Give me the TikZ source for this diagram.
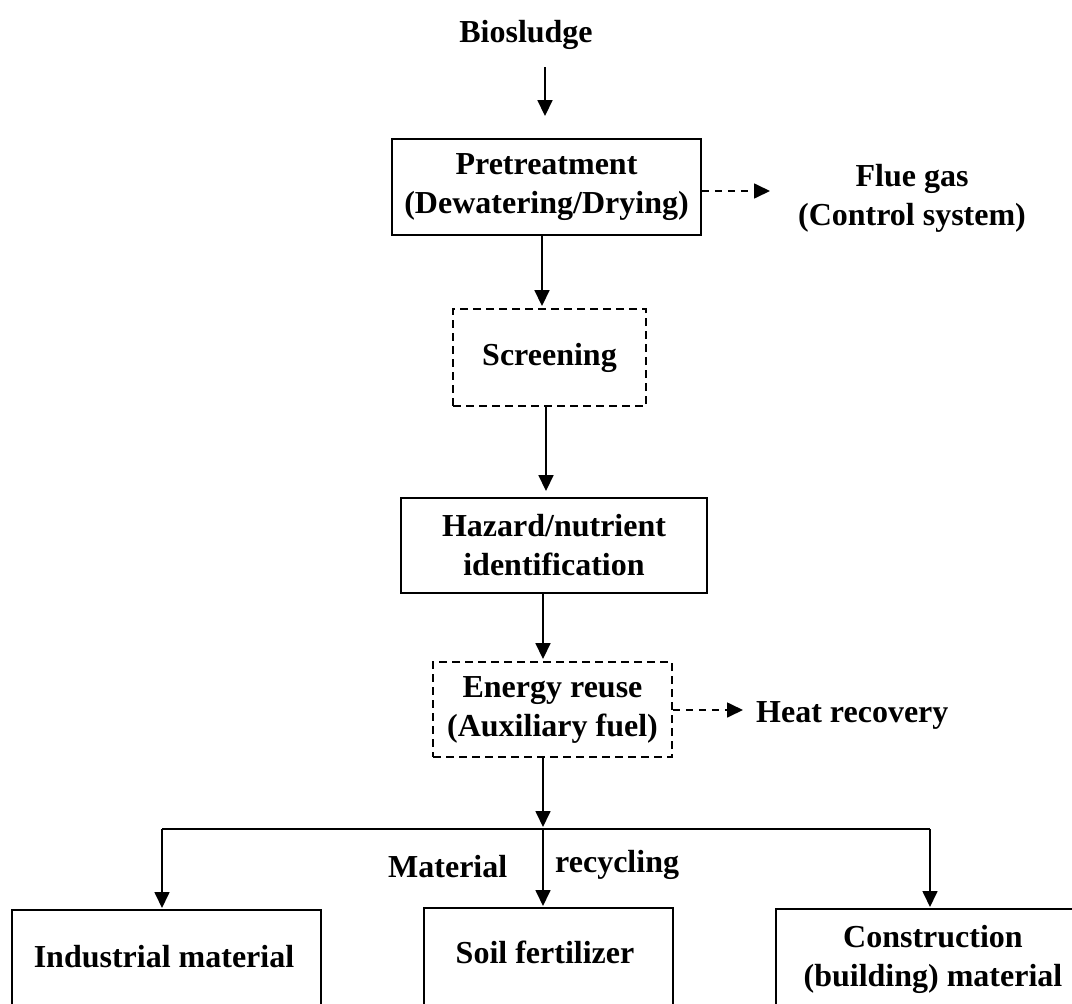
\documentclass[tikz,border=0pt]{standalone}
\usepackage{fontspec}
\setmainfont{Liberation Serif}
\usetikzlibrary{arrows.meta}
\begin{document}
\begin{tikzpicture}[x=1pt,y=-1pt,
  txt/.style={font=\fontsize{32}{39}\selectfont\bfseries, inner sep=0pt, align=center},
  solidbox/.style={draw, line width=1.9pt, inner sep=0pt, align=center,
                   font=\fontsize{32}{39}\selectfont\bfseries},
  dashbox/.style={solidbox, dash pattern=on 8pt off 5pt},
  arr/.style={line width=1.7pt, -{Triangle[length=16pt,width=15pt]}},
  darr/.style={arr, dash pattern=on 7pt off 6pt},
  barline/.style={line width=2.8pt}]
\useasboundingbox (0,0) rectangle (1072,1004);
\clip (0,0) rectangle (1072,1004);

% x positions of the vertical connectors
\coordinate (c1) at (545,0);
\coordinate (c2) at (542,0);
\coordinate (c3) at (546,0);
\coordinate (c4) at (543,0);

% nodes
\node[txt, anchor=base] (bio) at (526,42) {Biosludge};
\node[solidbox, minimum width=309pt, minimum height=96pt] (pre) at (546.5,187)
  {Pretreatment\\(Dewatering/Drying)};
\node[txt] (flue) at (912,198) {Flue gas\\(Control system)};
\node[dashbox, minimum width=193pt, minimum height=97pt] (scr) at (549.5,357.5) {Screening};
\node[solidbox, minimum width=306pt, minimum height=95pt] (haz) at (554,545.5)
  {Hazard/nutrient\\identification};
\node[dashbox, minimum width=239pt, minimum height=95pt] (en) at (552.5,709.5)
  {Energy reuse\\(Auxiliary fuel)};
\node[txt, anchor=base west] (heat) at (756,722) {Heat recovery};
\node[txt, anchor=base west] (mat) at (388,877) {Material};
\node[txt, anchor=base west] (rec) at (555,872) {recycling};

% bottom boxes (cut by the lower edge)
\node[solidbox, anchor=north, minimum width=309pt, minimum height=130pt] (indbox) at (166.5,909) {};
\node[solidbox, anchor=north, minimum width=249pt, minimum height=130pt] (soilbox) at (548.5,907) {};
\node[solidbox, anchor=north, minimum width=314pt, minimum height=130pt] (conbox) at (933,908) {};
\node[txt, anchor=base] (ind) at (164,967) {Industrial material};
\node[txt, anchor=base] (soil) at (545,963) {Soil fertilizer};
\node[txt] (con) at (933,959.5) {Construction\\(building) material};

% connectors
\draw[arr, shorten <=18pt, shorten >=22pt] (bio.south -| c1) -- (pre.north -| c1);
\draw[arr, shorten >=2pt] (pre.south -| c2) -- (scr.north -| c2);
\draw[arr, shorten >=6pt] (scr.south -| c3) -- (haz.north -| c3);
\draw[arr, shorten >=2pt] (haz.south -| c4) -- (en.north -| c4);

\coordinate (fg) at (770,191);
\draw[darr] (pre.east |- fg) -- (fg);
\coordinate (hr) at (743,710);
\draw[darr] (en.east |- hr) -- (hr);

\coordinate (jn) at (543,829);
\coordinate (bl) at (162,829);
\coordinate (br) at (930,829);
\draw[arr, shorten >=2pt] (en.south -| c4) -- (jn);
\draw[barline] (bl) -- (br);
\draw[arr, shorten >=1pt] (bl) -- (indbox.north -| bl);
\draw[arr, shorten >=1pt] (jn) -- (soilbox.north -| jn);
\draw[arr, shorten >=1pt] (br) -- (conbox.north -| br);
\end{tikzpicture}
\end{document}
